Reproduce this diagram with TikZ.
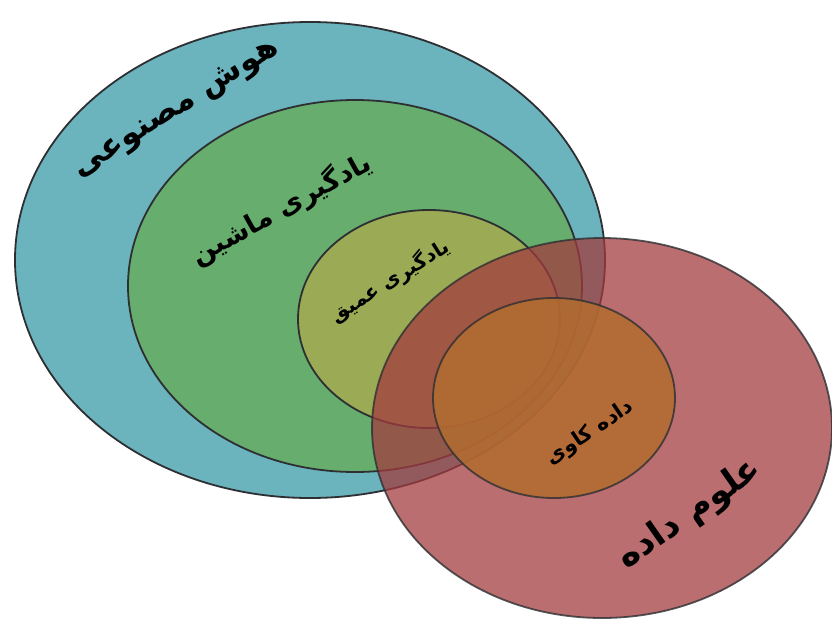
\documentclass[tikz,border=0pt]{standalone}
\usepackage{fontspec}
\TeXXeTstate=1
\newfontfamily\arabicfont[Script=Arabic]{DejaVu Sans}
\definecolor{aiblue}{RGB}{107,179,189}
\definecolor{mlgreen}{RGB}{102,173,110}
\definecolor{dlolive}{RGB}{155,170,85}
\definecolor{dsred}{RGB}{162,59,62}
\definecolor{dmorange}{RGB}{178,108,48}
\definecolor{rim}{RGB}{45,47,50}
\begin{document}
\begin{tikzpicture}[x=1pt,y=-1pt,
  ring/.style={draw=rim, line width=1.8pt},
  glass/.style={draw=rim, line width=1.8pt, draw opacity=0.8},
  lbl/.style={inner sep=0pt, text=black}]
\useasboundingbox (0,0) rectangle (832,621);

% nested fields of artificial intelligence
\path[ring, fill=aiblue]  (310,260) ellipse [x radius=295, y radius=238];
\path[ring, fill=mlgreen] (355,286) ellipse [x radius=227, y radius=186];
\path[ring, fill=dlolive] (429,319) ellipse [x radius=131, y radius=109];

% data science, laid over the others
\path[glass, fill=dsred, fill opacity=0.74]    (602,428) ellipse [x radius=230, y radius=190];
\path[glass, fill=dmorange, fill opacity=0.86] (554,398) ellipse [x radius=121, y radius=100];

% labels
\node[lbl, rotate=32, font=\arabicfont\bfseries\fontsize{32}{38}\selectfont] (ai) at (177,110) {\beginR هوش مصنوعی\endR};
\node[lbl, rotate=29, font=\arabicfont\bfseries\fontsize{27}{32}\selectfont] (ml) at (281,209) {\beginR یادگیری ماشین\endR};
\node[lbl, rotate=32, font=\arabicfont\bfseries\fontsize{20}{24}\selectfont] (dl) at (390,281) {\beginR یادگیری عمیق\endR};
\node[lbl, rotate=34, font=\arabicfont\bfseries\fontsize{21}{25}\selectfont] (dm) at (590,433) {\beginR داده کاوی\endR};
\node[lbl, rotate=35, font=\arabicfont\bfseries\fontsize{35}{42}\selectfont] (ds) at (690,514) {\beginR علوم داده\endR};
\end{tikzpicture}
\end{document}
